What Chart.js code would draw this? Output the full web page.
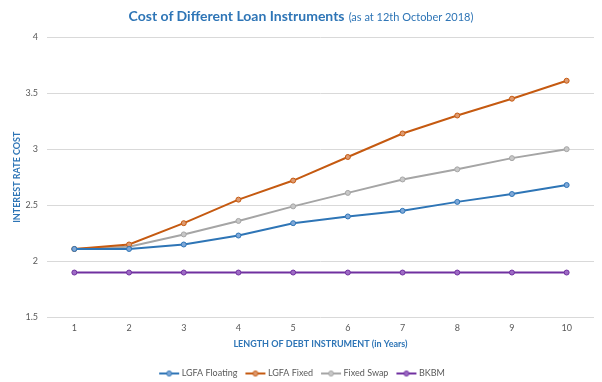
<!DOCTYPE html>
<html>
<head>
<meta charset="utf-8">
<script src="https://cdn.jsdelivr.net/npm/chart.js@4"></script>
<style>
  body { margin: 0; background: #fff; }
  #wrap { position: relative; width: 602px; height: 382px; }
  #title {
    position: absolute; top: 5px; left: 0; width: 602px; text-align: center;
    font-family: Lato, 'Open Sans', sans-serif; color: #2E75B6; white-space: nowrap;
  }
  #title b { font-size: 14px; }
  #title span { font-size: 11px; }
</style>
</head>
<body>
<div id="wrap">
  <div id="title"><b>Cost of Different Loan Instruments</b> <span>(as at 12th October 2018)</span></div>
  <canvas id="loan-chart" width="602" height="382"></canvas>
</div>
<script>
// ─── Data ────────────────────────────────────────
const years = ['1', '2', '3', '4', '5', '6', '7', '8', '9', '10'];
const lgfaFloating = [2.11, 2.11, 2.15, 2.23, 2.34, 2.40, 2.45, 2.53, 2.60, 2.68];
const lgfaFixed = [2.11, 2.15, 2.34, 2.55, 2.72, 2.93, 3.14, 3.30, 3.45, 3.61];
const fixedSwap = [2.11, 2.13, 2.24, 2.36, 2.49, 2.61, 2.73, 2.82, 2.92, 3.00];
const bkbm = [1.90, 1.90, 1.90, 1.90, 1.90, 1.90, 1.90, 1.90, 1.90, 1.90];
const yTicks = [1.5, 2, 2.5, 3, 3.5, 4];

const FONT = "Lato, 'Open Sans', sans-serif";

// ─── Legend marker (line with a dot) ─────────────
function legendMarker(color, fill) {
  const c = document.createElement('canvas');
  c.width = 22; c.height = 8;
  const g = c.getContext('2d');
  g.strokeStyle = color; g.lineWidth = 2;
  g.beginPath(); g.moveTo(1, 4); g.lineTo(21, 4); g.stroke();
  g.fillStyle = fill; g.lineWidth = 1;
  g.beginPath(); g.arc(11, 4, 2.5, 0, Math.PI * 2); g.fill(); g.stroke();
  return c;
}

function series(label, data, color, fill) {
  return {
    label, data,
    borderColor: color,
    backgroundColor: fill,
    pointBackgroundColor: fill,
    pointBorderColor: color,
    pointBorderWidth: 1,
    pointRadius: 2.5,
    borderWidth: 2,
    tension: 0,
    marker: legendMarker(color, fill),
  };
}

const datasets = [
  series('LGFA Floating', lgfaFloating, '#2E75B6', '#7FA8D8'),
  series('LGFA Fixed', lgfaFixed, '#C55A11', '#DE9A70'),
  series('Fixed Swap', fixedSwap, '#A5A5A5', '#C8C8C8'),
  series('BKBM', bkbm, '#7030A0', '#9D6BC4'),
];

new Chart(document.getElementById('loan-chart'), {
  type: 'line',
  data: { labels: years, datasets },
  options: {
    responsive: false,
    animation: false,
    layout: { padding: { top: 37, right: 8, left: 12, bottom: -6 } },
    plugins: {
      legend: {
        position: 'bottom',
        labels: {
          usePointStyle: true,
          pointStyleWidth: 16,
          boxHeight: 8,
          padding: 10,
          color: '#595959',
          font: { size: 9, family: FONT },
          generateLabels: (chart) => chart.data.datasets.map((d, i) => ({
            text: d.label,
            pointStyle: d.marker,
            fillStyle: d.backgroundColor,
            strokeStyle: d.borderColor,
            lineWidth: 0,
            fontColor: '#595959',
            datasetIndex: i,
            hidden: false,
          })),
        },
      },
      tooltip: { enabled: false },
    },
    scales: {
      x: {
        offset: true,
        grid: { display: false },
        border: { display: false },
        ticks: { color: '#595959', font: { size: 9, family: FONT }, padding: -3 },
        title: {
          display: true,
          text: 'LENGTH OF DEBT INSTRUMENT (in Years)',
          color: '#2E75B6',
          font: { size: 9, weight: 'bold', family: FONT },
          padding: { top: 8, bottom: 10 },
        },
      },
      y: {
        min: 1.5,
        max: 4,
        afterBuildTicks: (s) => { s.ticks = yTicks.map(v => ({ value: v })); },
        afterFit: (s) => { s.width = 35; },
        grid: { color: '#D9D9D9', drawTicks: false },
        border: { display: false },
        ticks: {
          color: '#595959',
          font: { size: 9, family: FONT },
          padding: 9,
          callback: (v) => String(v),
        },
        title: {
          display: true,
          text: 'INTEREST RATE COST',
          color: '#2E75B6',
          font: { size: 9, weight: 'bold', family: FONT },
          padding: { top: 0, bottom: 1 },
        },
      },
    },
  },
});
</script>
</body>
</html>
